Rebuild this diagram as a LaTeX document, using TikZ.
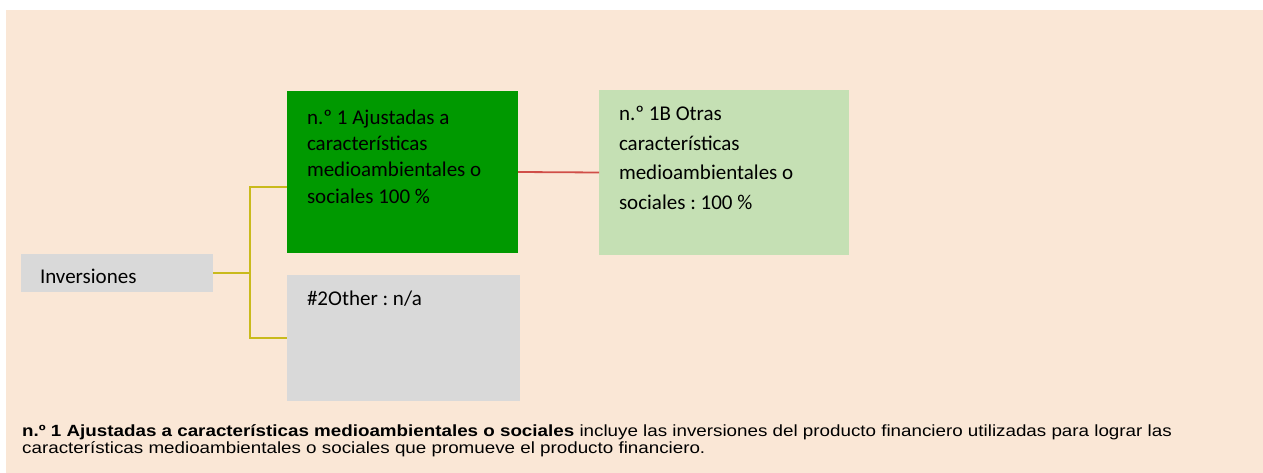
\documentclass[tikz,border=0pt]{standalone}
\usepackage{fontspec}
\setmainfont{Carlito}
\newfontfamily\arialfont[FakeStretch=1.16]{Liberation Sans}
\definecolor{beige}{RGB}{250,231,214}
\definecolor{greyb}{RGB}{217,217,217}
\definecolor{darkg}{RGB}{0,153,0}
\definecolor{lightg}{RGB}{197,224,180}
\definecolor{yel}{RGB}{201,186,28}
\definecolor{redl}{RGB}{208,78,72}
\frenchspacing
\begin{document}
\begin{tikzpicture}[x=1pt,y=-1pt,
  box/.style={draw=none, inner sep=0pt, outer sep=0pt, anchor=north west, rectangle},
  lbl/.style={anchor=base west, inner sep=0pt, outer sep=0pt, font=\fontsize{21}{26.3}\selectfont},
  yline/.style={draw=yel, line width=2pt},
  rline/.style={draw=redl, line width=1.8pt}]
\useasboundingbox (0,0) rectangle (1263,473);
\fill[white] (0,0) rectangle (1263,473);
\fill[beige] (6,10) rectangle (1263,473);
% boxes
\node[box, fill=greyb, minimum width=192pt, minimum height=38pt] (inv) at (21,254) {};
\node[box, fill=darkg, minimum width=231pt, minimum height=162pt] (g1) at (287,91) {};
\node[box, fill=greyb, minimum width=233pt, minimum height=126pt] (o2) at (287,275) {};
\node[box, fill=lightg, minimum width=250pt, minimum height=165pt] (g2) at (599,90) {};
% connectors
\coordinate (j) at (250,273);
\coordinate (a1) at (287,187);
\draw[yline] (inv.east) -- (j);
\draw[yline] (a1) -| (j) |- (o2.west);
\draw[rline] (g1.east) -- (g2.west);
% texts
\node[lbl] (tinv) at (40,283) {Inversiones};
\node[lbl] (tg1) at (307,124.3) {\parbox[t]{220pt}{\fontsize{21}{26.3}\selectfont n.º 1 Ajustadas a\\características\\medioambientales o\\sociales 100 \%}};
\node[lbl] (tg2) at (619,120.7) {\parbox[t]{230pt}{\fontsize{21}{29.6}\selectfont n.º 1B Otras\\características\\medioambientales o\\sociales : 100 \%}};
\node[lbl] (to2) at (307,305) {\#2Other : n/a};
\node[anchor=base west, inner sep=0pt] (note) at (22,436) {\parbox[t]{1230pt}{\arialfont\fontsize{16.2}{17}\selectfont {\bfseries n.º 1 Ajustadas a características medioambientales o sociales} incluye las inversiones del producto financiero utilizadas para lograr las\\características medioambientales o sociales que promueve el producto financiero.}};
\end{tikzpicture}
\end{document}
